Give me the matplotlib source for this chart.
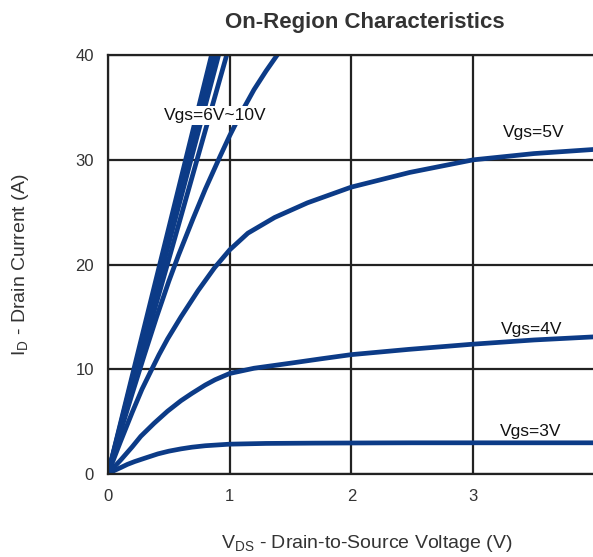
import matplotlib
matplotlib.use('Agg')
import matplotlib.pyplot as plt

plt.rcParams['font.family'] = ['Liberation Sans', 'DejaVu Sans']

# curves (V_DS in V, I_D in A)
vds_3v = [0, 0.05, 0.11, 0.16, 0.22, 0.3, 0.41, 0.5, 0.6, 0.69, 0.8, 1.0, 1.3, 1.7, 2.2, 2.5, 3.0, 3.5, 4.0]
id_3v = [0, 0.32, 0.64, 0.92, 1.19, 1.5, 1.92, 2.18, 2.4, 2.56, 2.7, 2.85, 2.92, 2.95, 2.97, 2.98, 2.98, 2.98, 2.98]

vds_4v = [0, 0.05, 0.11, 0.2, 0.27, 0.38, 0.49, 0.6, 0.69, 0.8, 0.88, 1.0, 1.2, 1.51, 1.75, 2.0, 2.47, 3.0, 3.5, 4.0]
id_4v = [0, 0.65, 1.4, 2.6, 3.6, 4.85, 6.0, 7.0, 7.7, 8.5, 9.0, 9.6, 10.1, 10.6, 11.0, 11.4, 11.9, 12.4, 12.8, 13.1]

vds_5v = [0, 0.1, 0.2, 0.28, 0.356, 0.42, 0.49, 0.6, 0.74, 0.876, 1.0, 1.15, 1.37, 1.64, 2.0, 2.48, 3.0, 3.5, 4.0]
id_5v = [0, 3.0, 5.9, 8.1, 9.9, 11.4, 12.9, 15.0, 17.5, 19.7, 21.4, 23.0, 24.5, 25.9, 27.4, 28.8, 30.0, 30.6, 31.0]

vds_6v = [0, 0.1, 0.2, 0.3, 0.4, 0.5, 0.58, 0.7, 0.8, 0.92, 1.0, 1.1, 1.2, 1.3, 1.42]
id_6v = [0, 3.9, 7.7, 11.4, 15.0, 18.4, 20.9, 24.4, 27.2, 30.3, 32.3, 34.6, 36.7, 38.5, 40.5]

vds_hi = [0, 1.0]
id_7v = [0, 41]
id_8v = [0, 44]
id_9v = [0, 45.5]
id_10v = [0, 47]

labels = ['Vgs=3V', 'Vgs=4V', 'Vgs=5V', 'Vgs=6V~10V']
label_pos = [(3.47, 4.1), (3.48, 13.8), (3.50, 32.6), (0.88, 34.2)]

col = '#0c3b87'
grid_col = '#222222'
txt_col = '#333333'

fig = plt.figure(figsize=(5.93, 5.57), dpi=100)
ax = fig.add_axes([0.182, 0.149, 0.821, 0.752])

lw = 3.4
ax.plot(vds_3v, id_3v, color=col, lw=lw, solid_capstyle='round', solid_joinstyle='round')
ax.plot(vds_4v, id_4v, color=col, lw=lw, solid_capstyle='round', solid_joinstyle='round')
ax.plot(vds_5v, id_5v, color=col, lw=lw, solid_capstyle='round', solid_joinstyle='round')
ax.plot(vds_6v, id_6v, color=col, lw=lw, solid_capstyle='round', solid_joinstyle='round')
for ids in (id_7v, id_8v, id_9v, id_10v):
    ax.plot(vds_hi, ids, color=col, lw=lw, solid_capstyle='round')

ax.set_xlim(0, 4)
ax.set_ylim(0, 40)
ax.set_xticks([0, 1, 2, 3])
ax.set_yticks([0, 10, 20, 30, 40])
ax.grid(True, color=grid_col, lw=1.6)
ax.set_axisbelow(True)
for s in ax.spines.values():
    s.set_color(grid_col)
    s.set_linewidth(1.6)
ax.tick_params(length=0, labelsize=12, labelcolor=txt_col)
ax.tick_params(axis='x', pad=11)
ax.tick_params(axis='y', pad=10)

for lab, (x, y) in zip(labels, label_pos):
    bb = dict(facecolor='white', edgecolor='none', pad=1.5) if '~' in lab else None
    ax.text(x, y, lab, ha='center', va='center', fontsize=12.5, color='#111111', bbox=bb, zorder=5)

fig.text(0.616, 0.96, 'On-Region Characteristics', ha='center', va='center',
         fontsize=16, fontweight='bold', color=txt_col)
fig.text(0.619, 0.024, r'$\mathregular{V_{DS}}$ - Drain-to-Source Voltage (V)', ha='center',
         va='center', fontsize=14, color=txt_col)
fig.text(0.035, 0.525, r'$\mathregular{I_D}$ - Drain Current (A)', ha='center', va='center',
         rotation=90, fontsize=14, color=txt_col)

fig.savefig('out.png', dpi=100)
